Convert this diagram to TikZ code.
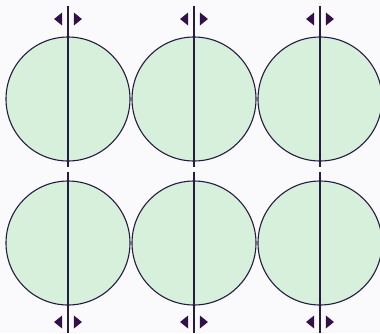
\documentclass[tikz,border=0pt]{standalone}
\usetikzlibrary{shapes.geometric}

\definecolor{cellgreen}{RGB}{214,240,220}
\definecolor{wallink}{RGB}{38,28,66}
\definecolor{markink}{RGB}{52,16,72}
\definecolor{paper}{RGB}{250,250,252}

\begin{document}
\begin{tikzpicture}[
  x=1pt, y=-1pt,
  cell/.style = {circle, draw=wallink, fill=cellgreen, line width=1.1pt, minimum size=124pt, inner sep=0pt},
  axis/.style = {draw=wallink, line width=1.3pt},
  marker/.style = {isosceles triangle, isosceles triangle stretches, fill=markink, inner sep=0pt, minimum height=8pt, minimum width=13pt},
  markleft/.style = {marker, shape border rotate=180},
  markright/.style = {marker}
]

% paper
\fill[paper] (0,0) rectangle (380,333);
\useasboundingbox (0,0) rectangle (380,333);

% cells, two rows
\foreach \x/\n in {68/a, 194/b, 320/c} {
  \node[cell] (\n1) at (\x,99) {};
  \node[cell] (\n2) at (\x,243) {};
}

% division axes with end markers
\foreach \x/\n in {68/a, 194/b, 320/c} {
  \coordinate (\n top) at (\x,6);
  \coordinate (\n upper) at (\x,167);
  \coordinate (\n lower) at (\x,172);
  \coordinate (\n bottom) at (\x,333);
  \draw[axis] (\n top) -- (\n upper);
  \draw[axis] (\n lower) -- (\n bottom);
  \node[markleft] (\n tl) at (\x-9,19) {};
  \node[markright] (\n tr) at (\x+9,19) {};
  \node[markleft] (\n bl) at (\x-9,322) {};
  \node[markright] (\n br) at (\x+9,322) {};
}
\end{tikzpicture}
\end{document}
